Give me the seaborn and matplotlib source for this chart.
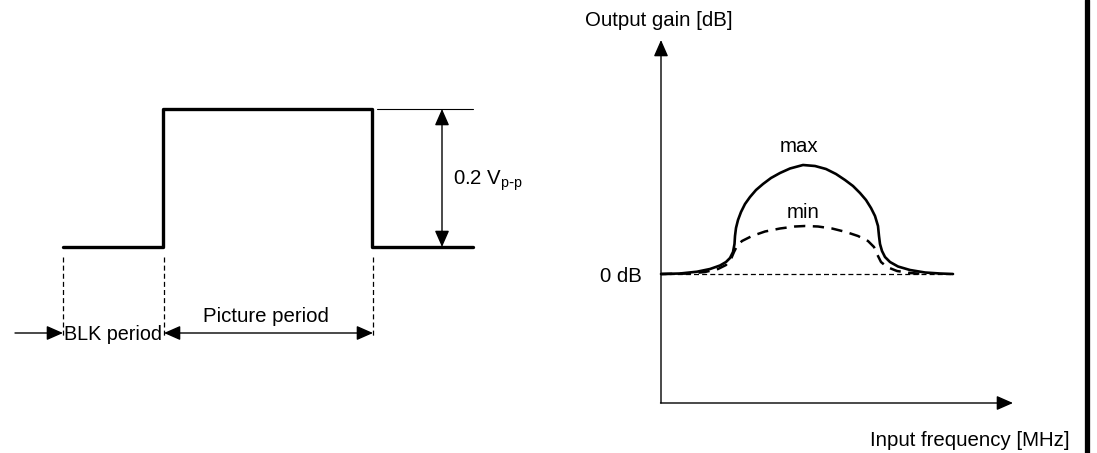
import numpy as np
import pandas as pd
import matplotlib
matplotlib.use("Agg")
import matplotlib.pyplot as plt
import seaborn as sns

# everything is laid out in pixel space of the 1097x453 picture

# left panel: video input pulse
pulse_t = [63, 163, 163, 372, 372, 473]
pulse_v = [247, 247, 109, 109, 247, 247]
period_edges = [63, 164, 373]

# right panel: frequency response (0 dB line at y=274)
freq = [661, 680, 697, 710, 720, 726, 730, 733, 734.5, 735, 736, 738, 741,
        745, 750, 756, 763, 771, 780, 790, 803, 815, 826, 836, 845, 853, 860,
        866, 871, 875, 878, 879, 880, 882, 885, 890, 898, 910, 925, 940, 953]
gain_max = [274, 273.5, 271.7, 269, 265.5, 262, 258, 252, 244, 236, 228, 220,
            212, 204, 197, 190, 184, 178, 173, 168.5, 165, 166, 169, 174, 180,
            186, 193, 200, 208, 216, 226, 236, 244, 251, 257, 262, 266.5, 270,
            272.5, 273.5, 274]
freq_min = [661, 690, 705, 718, 726, 731, 734, 737, 742, 752, 765, 780, 795,
            805, 818, 832, 846, 858, 868, 874, 877, 881, 887, 897, 910, 925]
gain_min = [274, 273.5, 272, 269, 265, 259, 252, 246, 241, 236, 231.5, 228.5,
            226.5, 226, 226.5, 228.5, 232, 236, 241, 247, 254, 262, 267, 271,
            273, 274]
zero_db = 274

sns.set_style("white")
plt.rcParams['font.family'] = ['Liberation Sans', 'DejaVu Sans']
plt.rcParams['text.color'] = 'black'

fig = plt.figure(figsize=(10.97, 4.53), dpi=100)
ax = fig.add_axes([0, 0, 1, 1])
ax.set_xlim(0, 1097)
ax.set_ylim(453, 0)
ax.axis('off')

fs = 14.7
arrow_kw = dict(arrowstyle='-|>,head_length=0.5,head_width=0.22', color='black',
                lw=1.0, mutation_scale=20, shrinkA=0, shrinkB=0)
both_kw = dict(arrowstyle='<|-|>,head_length=0.5,head_width=0.22', color='black',
               lw=1.0, mutation_scale=20, shrinkA=0, shrinkB=0)

# ---- left panel ----
pulse = pd.DataFrame({'t': pulse_t, 'v': pulse_v})
sns.lineplot(data=pulse, x='t', y='v', sort=False, estimator=None,
             color='black', lw=2.4, ax=ax)
ax.plot([377, 473], [109, 109], color='black', lw=0.8)
ax.annotate('', xy=(442, 109), xytext=(442, 247), arrowprops=both_kw)
ax.text(453, 181, r'0.2 V$_{\mathregular{p\text{-}p}}$', fontsize=fs, va='center', ha='left')

for x in period_edges:
    ax.plot([x, x], [257, 336], color='black', lw=0.9, ls=(0, (4, 2.5)))
ax.annotate('', xy=(63, 333), xytext=(15, 333), arrowprops=arrow_kw)
ax.annotate('', xy=(164, 333), xytext=(373, 333), arrowprops=both_kw)
ax.text(113, 335, 'BLK period', fontsize=14.2, ha='center', va='center')
ax.text(266, 317, 'Picture period', fontsize=fs, ha='center', va='center')

# ---- right panel ----
ax.annotate('', xy=(661, 40), xytext=(661, 403), arrowprops=arrow_kw)
ax.annotate('', xy=(1013, 403), xytext=(660.5, 403), arrowprops=arrow_kw)
ax.text(659, 20, 'Output gain [dB]', fontsize=fs, ha='center', va='center')
ax.text(1070, 440, 'Input frequency [MHz]', fontsize=fs, ha='right', va='center')
ax.text(621, 276, '0 dB', fontsize=fs, ha='center', va='center')

ax.plot([661, 953], [zero_db, zero_db], color='black', lw=0.9, ls=(0, (4, 2.5)))

resp_max = pd.DataFrame({'f': freq, 'g': gain_max})
resp_min = pd.DataFrame({'f': freq_min, 'g': gain_min})
sns.lineplot(data=resp_min, x='f', y='g', sort=False, estimator=None,
             color='black', lw=1.8, ls=(0, (4.5, 3)), ax=ax)
sns.lineplot(data=resp_max, x='f', y='g', sort=False, estimator=None,
             color='black', lw=1.9, ax=ax)
ax.text(799, 147, 'max', fontsize=fs, ha='center', va='center')
ax.text(803, 212, 'min', fontsize=fs, ha='center', va='center')

# frame edge on the right
ax.plot([1086.5, 1086.5], [0, 453], color='black', lw=3.8)

fig.savefig('out.png', dpi=100)
